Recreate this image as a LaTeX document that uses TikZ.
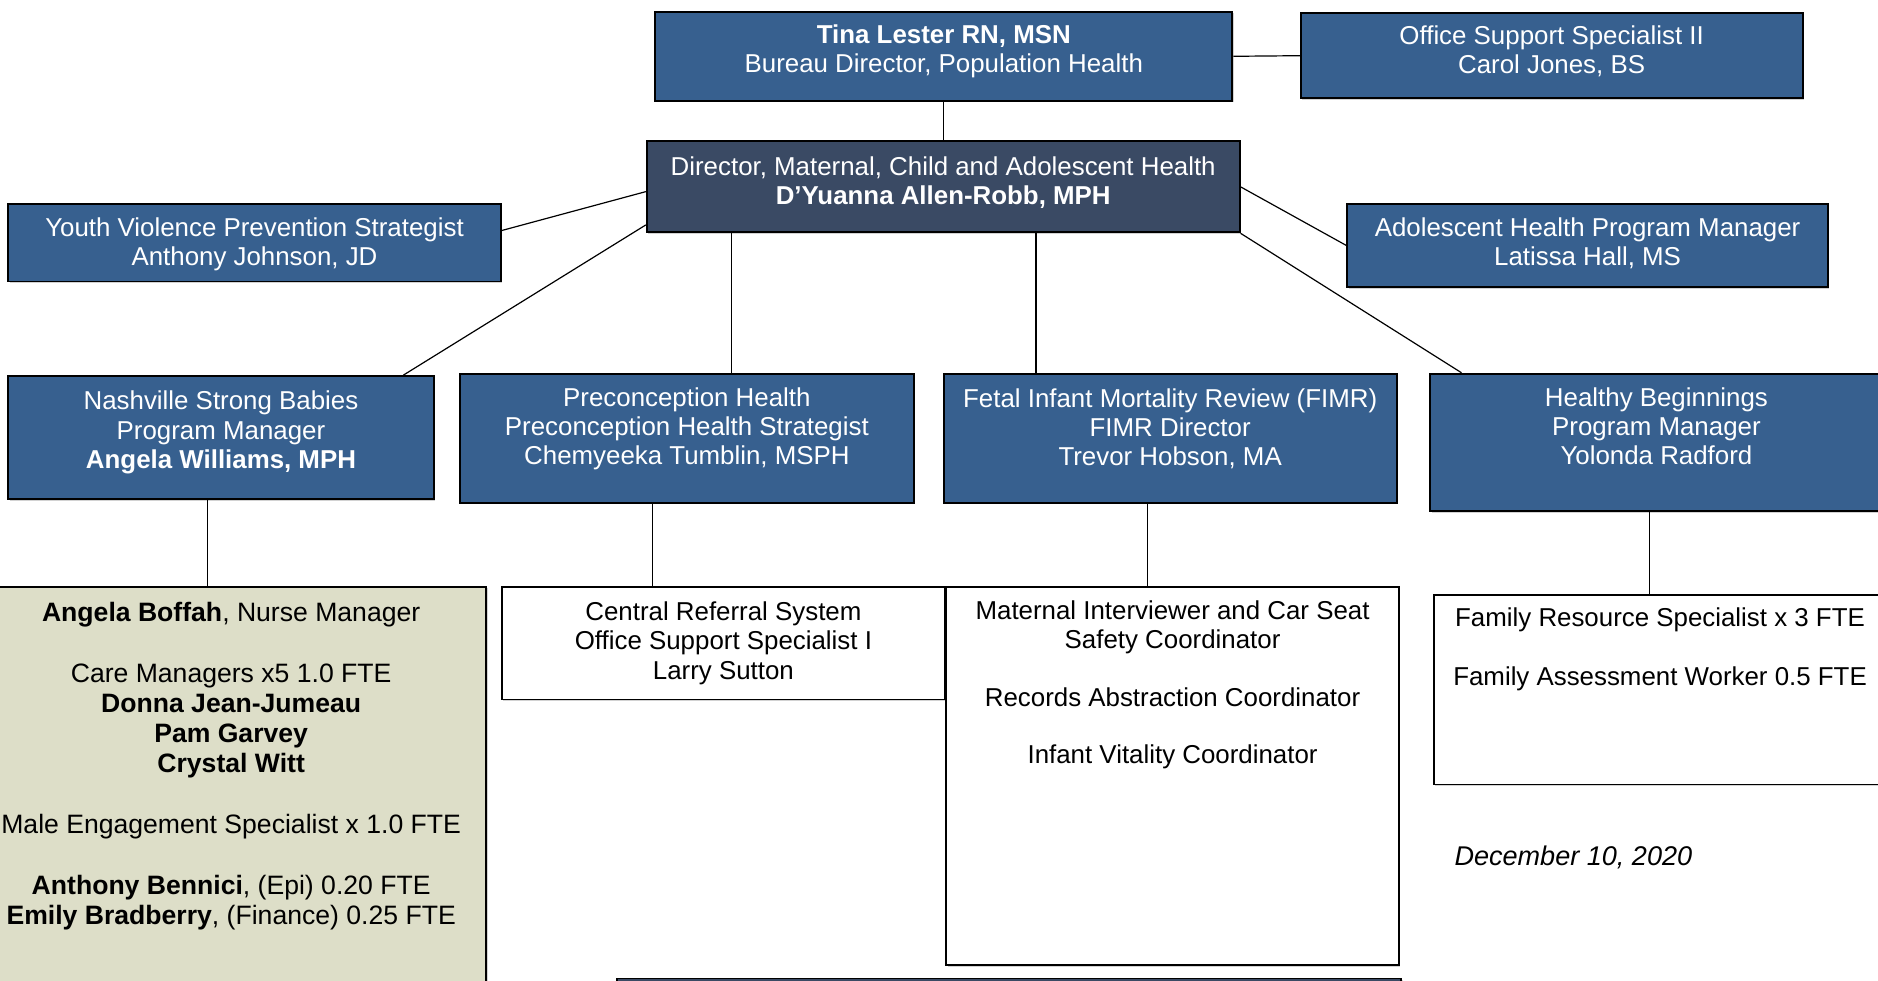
\documentclass[tikz,border=0pt]{standalone}
\usepackage{fontspec}
\setmainfont{Liberation Sans}
\usepackage{tikz}
\usetikzlibrary{fit,positioning,shadows}
\definecolor{boxblue}{RGB}{55,96,143}
\definecolor{boxdark}{RGB}{58,74,100}
\definecolor{boxbeige}{RGB}{221,222,200}

\begin{document}
\begin{tikzpicture}[x=0.5pt, y=-0.5pt,
   box/.style={draw=black, line width=0.8pt, inner sep=0pt,
     drop shadow={shadow xshift=0.6pt, shadow yshift=-0.6pt, opacity=0.35}},
   bluebox/.style={box, fill=boxblue},
   darkbox/.style={box, fill=boxdark},
   plainbox/.style={box, fill=white},
   beigebox/.style={box, fill=boxbeige},
   txt/.style={inner sep=0pt, align=center, font=\fontsize{10.8pt}{12.2pt}\selectfont},
   wtxt/.style={txt, text=white},
   link/.style={draw=black, line width=0.5pt}]
   \path[use as bounding box, fill=white] (0,0) rectangle (1568,819);

   \begin{scope}
    \node[bluebox, fit={(547,10) (1029,84)}] (tina) {};
    \node[bluebox, fit={(1086,11) (1505,82)}] (office) {};
    \node[darkbox, fit={(540,118) (1035,194)}] (dir) {};
    \node[bluebox, fit={(7,170) (418,235)}] (youth) {};
    \node[bluebox, fit={(1125,170) (1526,240)}] (adol) {};
    \node[bluebox, fit={(7,314) (362,417)}] (nash) {};
    \node[bluebox, fit={(384,312) (763,420)}] (prec) {};
    \node[bluebox, fit={(788,312) (1166,420)}] (fimr) {};
    \node[bluebox, fit={(1194,312) (1572,427)}] (hb) {};
    \node[beigebox, fit={(-20,490) (406,840)}] (nurse) {};
    \node[plainbox, fit={(419,490) (789,584)}] (central) {};
    \node[plainbox, fit={(790,490) (1168,806)}] (mat) {};
    \node[plainbox, fit={(1197,497) (1575,655)}] (fam) {};
    \node[darkbox, fit={(515,817) (1170,850)}] (nextbox) {};
   \end{scope}

   \node[wtxt, below=5.5pt of tina.north] (tinaT)
     {\textbf{Tina Lester RN, MSN}\\Bureau Director, Population Health};
   \node[wtxt, below=5.5pt of office.north] (officeT)
     {Office Support Specialist II\\Carol Jones, BS};
   \node[wtxt, below=6.5pt of dir.north] (dirT)
     {Director, Maternal, Child and Adolescent Health\\\textbf{D’Yuanna Allen-Robb, MPH}};
   \node[wtxt, below=6pt of youth.north] (youthT)
     {Youth Violence Prevention Strategist\\Anthony Johnson, JD};
   \node[wtxt, below=6pt of adol.north] (adolT)
     {Adolescent Health Program Manager\\Latissa Hall, MS};
   \node[wtxt, below=6.5pt of nash.north] (nashT)
     {Nashville Strong Babies\\Program Manager\\\textbf{Angela Williams, MPH}};
   \node[wtxt, below=6pt of prec.north] (precT)
     {Preconception Health\\Preconception Health Strategist\\Chemyeeka Tumblin, MSPH};
   \node[wtxt, below=6.5pt of fimr.north] (fimrT)
     {Fetal Infant Mortality Review (FIMR)\\FIMR Director\\Trevor Hobson, MA};
   \node[wtxt, below=6pt of hb.north] (hbT)
     {Healthy Beginnings\\Program Manager\\Yolonda Radford};
   \node[txt, below=6.5pt of nurse.north, font=\fontsize{11.1pt}{12.6pt}\selectfont] (nurseT)
     {\textbf{Angela Boffah}, Nurse Manager\\[12.8pt]
      Care Managers x5 1.0 FTE\\\textbf{Donna Jean-Jumeau}\\\textbf{Pam Garvey}\\\textbf{Crystal Witt}\\[12.8pt]
      Male Engagement Specialist x 1.0 FTE\\[12.8pt]
      \textbf{Anthony Bennici}, (Epi) 0.20 FTE\\\textbf{Emily Bradberry}, (Finance) 0.25 FTE};
   \node[txt, below=6.5pt of central.north] (centralT)
     {Central Referral System\\Office Support Specialist I\\Larry Sutton};
   \node[txt, below=6pt of mat.north] (matT)
     {Maternal Interviewer and Car Seat\\Safety Coordinator\\[11.8pt]
      Records Abstraction Coordinator\\[11.8pt]Infant Vitality Coordinator};
   \node[txt, below=5.5pt of fam.north] (famT)
     {Family Resource Specialist x 3 FTE\\[12.3pt]Family Assessment Worker 0.5 FTE};
   \node[txt, anchor=west, font=\fontsize{11.3pt}{12.2pt}\selectfont\itshape] (date) at (1214,716)
     {December 10, 2020};

   \begin{scope}[every path/.style={link}]
    \draw (tina.east) -- (office.west);
    \draw (tina.south) -- (tina.south |- dir.north);
    \draw ([yshift=5pt]youth.east) -- ([yshift=-2pt]dir.west);
    \draw (dir.east) -- (adol.west);
    \draw ([yshift=3.5pt]dir.south west) -- ([xshift=-13pt]nash.north east);
    \draw ([xshift=18.75pt]prec.north) -- ([xshift=18.75pt]prec.north |- dir.south);
    \draw ([xshift=-56pt]fimr.north) -- ([xshift=-56pt]fimr.north |- dir.south);
    \draw (dir.south east) -- ([xshift=13.5pt]hb.north west);
    \draw ([xshift=-5.75pt]nash.south) -- ([xshift=-5.75pt]nash.south |- nurse.north);
    \draw ([xshift=-14.25pt]prec.south) -- ([xshift=-14.25pt]prec.south |- central.north);
    \draw ([xshift=-9.5pt]fimr.south) -- ([xshift=-9.5pt]fimr.south |- mat.north);
    \draw ([xshift=-3pt]hb.south) -- ([xshift=-3pt]hb.south |- fam.north);
   \end{scope}
\end{tikzpicture}
\end{document}
